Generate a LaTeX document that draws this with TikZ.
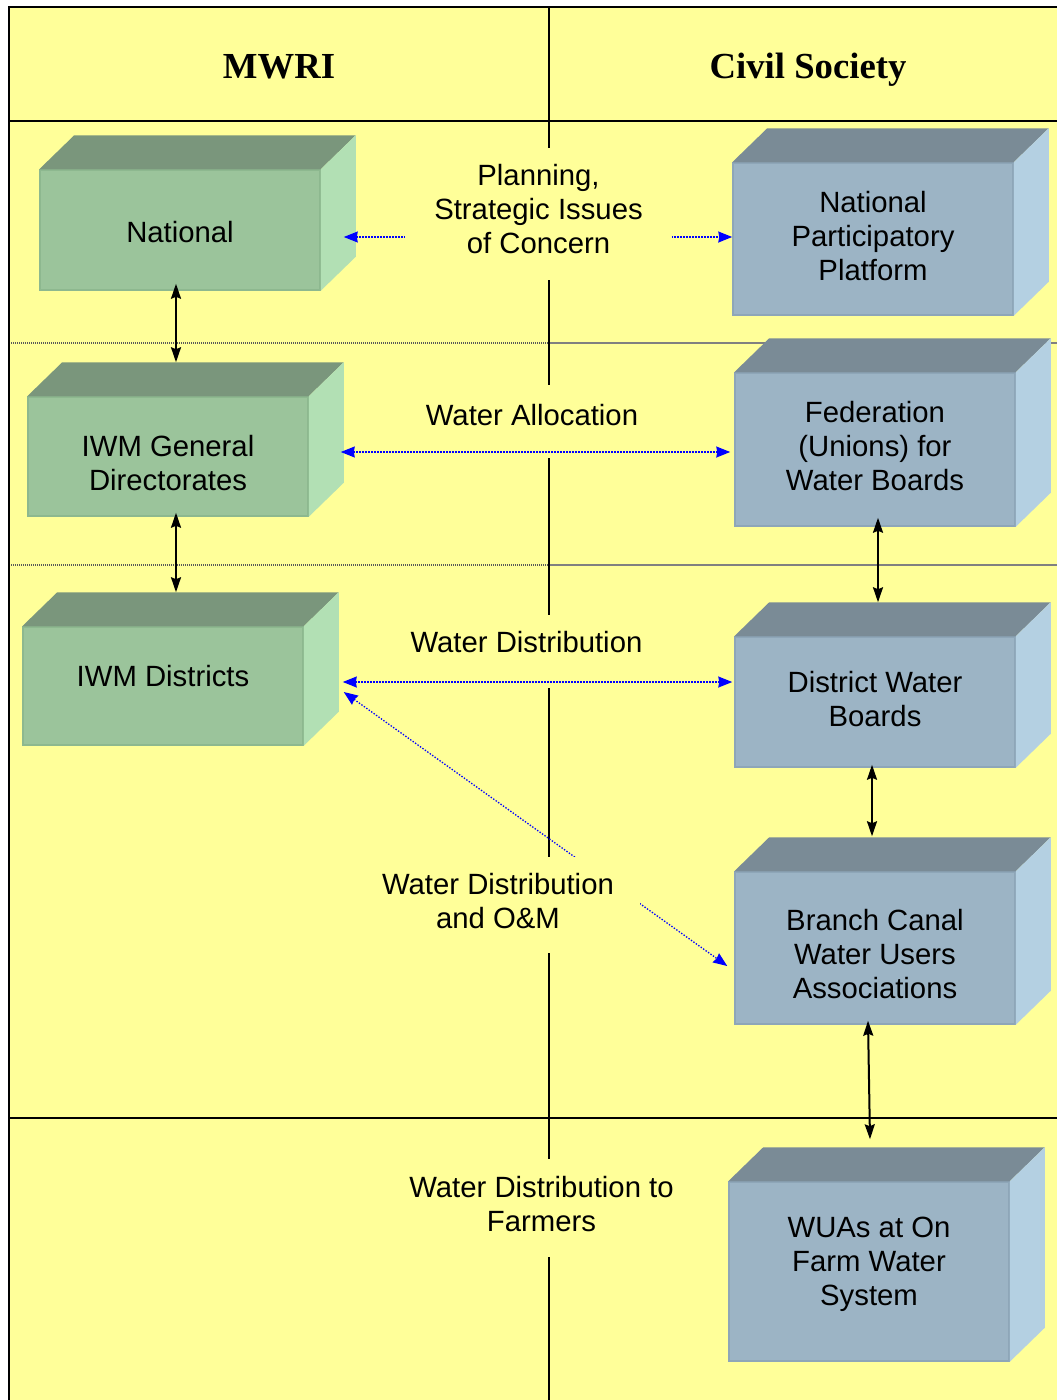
\documentclass[tikz,border=0pt]{standalone}
\usepackage{fontspec}
\setmainfont{Liberation Sans}
\newfontfamily\headfont{Liberation Serif}
\usetikzlibrary{arrows.meta}
\definecolor{paleyellow}{HTML}{FFFF99}
\definecolor{frontgrn}{HTML}{9BC49B}
\definecolor{topgrn}{HTML}{7A967C}
\definecolor{sidegrn}{HTML}{B2E0B4}
\definecolor{edgegrn}{HTML}{8DB88F}
\definecolor{frontblu}{HTML}{9CB4C5}
\definecolor{topblu}{HTML}{7A8B96}
\definecolor{sideblu}{HTML}{B4D0E2}
\definecolor{edgeblu}{HTML}{8EA6B8}
\definecolor{flowblue}{HTML}{0000FF}
\newcommand{\boxtext}{\fontsize{29.3}{34}\selectfont}
\newcommand{\headtext}{\headfont\bfseries\fontsize{36.7}{40}\selectfont}
\tikzset{>=stealth}
\tikzset{%
    boxgrn/.style={draw=edgegrn, fill=frontgrn, line width=1.5pt, minimum width=280pt,
        inner sep=0pt, align=center, font=\boxtext},
    boxblu/.style={draw=edgeblu, fill=frontblu, line width=1.5pt, minimum width=280pt,
        inner sep=0pt, align=center, font=\boxtext},
    flowlabel/.style={fill=paleyellow, inner sep=0pt, align=center, font=\boxtext},
    textat/.style 2 args={text height=#1pt, text depth=#2pt},
    link/.style={<->, >={Stealth[length=15pt,width=10pt,inset=2pt]}, line width=2pt},
    flow/.style={<->, >={Stealth[length=14pt,width=11pt,inset=1pt]}, flowblue,
        line width=1.3pt, dash pattern=on 1.4pt off 1.6pt},
    gridline/.style={line width=2.2pt},
    dotrule/.style={gray!70!black, line width=1.5pt, dash pattern=on 1pt off 1pt},
    solidrule/.style={gray, line width=1.6pt}
}

\begin{document}
\begin{tikzpicture}[x=1pt,y=-1pt]
\useasboundingbox (0,0) rectangle (1057,1400);
\clip (0,0) rectangle (1057,1400);
\fill[paleyellow] (9,7) rectangle (1070,1410);

\draw[dotrule] (9,343) -- (549,343);
\draw[solidrule] (549,343) -- (1070,343);
\draw[dotrule] (9,565) -- (549,565);
\draw[solidrule] (549,565) -- (1070,565);

\draw[gridline] (9,1410) -- (9,7) -- (1070,7);
\draw[gridline] (9,121) -- (1070,121);
\draw[gridline] (9,1118) -- (1070,1118);
\draw[gridline] (549,7) -- (549,1410);

\node[font=\headtext, anchor=base] (mwri) at (279,78) {MWRI};
\node[font=\headtext, anchor=base] (civil) at (808,78) {Civil Society};

\node[boxgrn, minimum height=120pt, textat={72}{48}] (nat) at (180,230) {National};
\node[boxgrn, minimum height=119pt, textat={93.5}{25.5}] (gd) at (168,456.5) {IWM General\\Directorates};
\node[boxgrn, minimum height=118pt, textat={59.5}{58.5}] (dist) at (163,686) {IWM Districts};

\node[boxblu, minimum height=152pt, textat={117.5}{34.5}] (npp) at (873,239) {National\\Participatory\\Platform};
\node[boxblu, minimum height=153pt, textat={117.5}{35.5}] (fed) at (875,449.5) {Federation\\(Unions) for\\Water Boards};
\node[boxblu, minimum height=130pt, textat={89.5}{40.5}] (dwb) at (875,702) {District Water\\Boards};
\node[boxblu, minimum height=152pt, textat={126.5}{25.5}] (bc) at (875,948) {Branch Canal\\Water Users\\Associations};
\node[boxblu, minimum height=179pt, textat={123}{56}] (wua) at (869,1271.5) {WUAs at On\\Farm Water\\System};

\foreach \n/\c in {nat/grn,gd/grn,dist/grn,npp/blu,fed/blu,dwb/blu,bc/blu,wua/blu}{
    \fill[top\c] (\n.north west) -- ++(35,-34) -- ([shift={(35,-34)}]\n.north east) -- (\n.north east) -- cycle;
    \fill[side\c] (\n.north east) -- ++(35,-34) -- ([shift={(35,-34)}]\n.south east) -- (\n.south east) -- cycle;
}

\draw[link] ([shift={(-4,-7)}]nat.south) -- ([shift={(8,-34)}]gd.north);
\draw[link] ([shift={(8,-4)}]gd.south) -- ([shift={(13,-34)}]dist.north);
\draw[link] ([shift={(3,-9)}]fed.south) -- ([shift={(3,-34)}]dwb.north);
\draw[link] ([shift={(-3,-3)}]dwb.south) -- ([shift={(-3,-35)}]bc.north);
\draw[link] ([shift={(-7,-4)}]bc.south) -- ([shift={(1,-42)}]wua.north);

\draw[flow] ([shift={(23,7)}]nat.east) -- ([shift={(0,-2)}]npp.west);
\draw[flow] ([shift={(40,6)}]dist.east) -- ([shift={(-7,18)}]bc.west);

\node[flowlabel, minimum width=267pt, minimum height=132pt, textat={105.5}{26.5}] (plan) at (538.5,214) {Planning,\\Strategic Issues\\of Concern};
\node[flowlabel, minimum width=260pt, textat={40}{33}, anchor=base] (alloc) at (532,425) {Water Allocation};
\node[flowlabel, minimum width=260pt, textat={37}{36}, anchor=base] (distrib) at (526.5,652) {Water Distribution};
\node[flowlabel, minimum width=284pt, minimum height=96pt, textat={71}{25}] (om) at (498,905) {Water Distribution\\and O\&M};
\node[flowlabel, minimum width=300pt, minimum height=98pt, textat={72}{26}] (farm) at (541.5,1208) {Water Distribution to\\Farmers};

\draw[flow] ([shift={(32,-4.5)}]gd.east) -- ([shift={(-4,2.5)}]fed.west);
\draw[flow] ([shift={(39,-4)}]dist.east) -- ([shift={(-2,-20)}]dwb.west);
\end{tikzpicture}
\end{document}
